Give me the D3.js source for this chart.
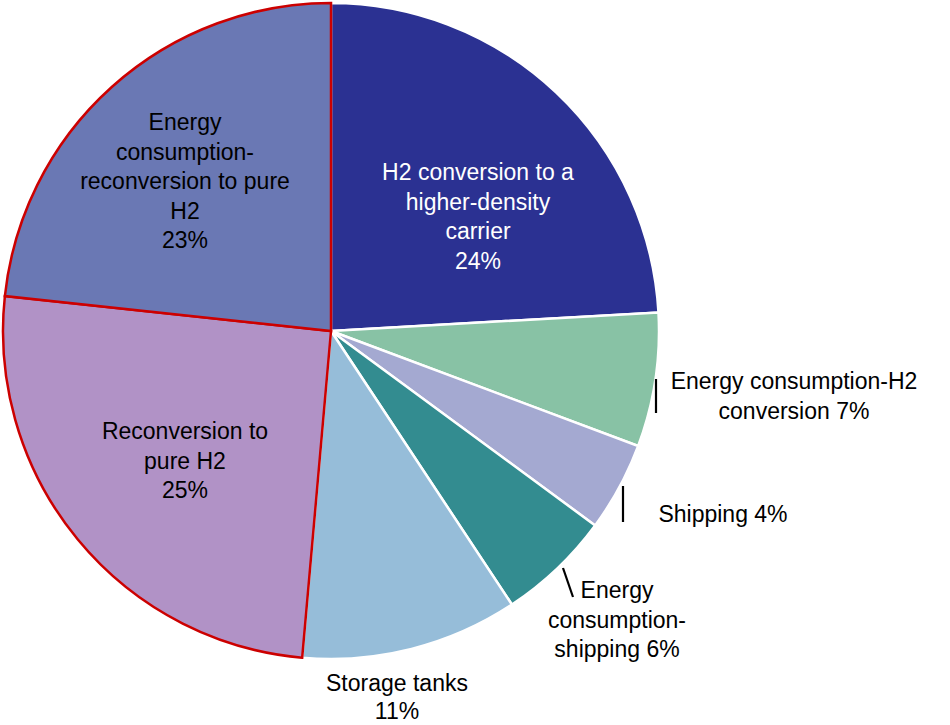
<!DOCTYPE html>
<html><head><meta charset="utf-8">
<script src="https://cdn.jsdelivr.net/npm/d3@7"></script>
<style>body{margin:0;background:#fff}svg{display:block}</style>
</head><body>
<svg id="c" width="950" height="725"></svg>
<script>
const categories = ["H2 conversion to a higher-density carrier","Energy consumption-H2 conversion","Shipping","Energy consumption-shipping","Storage tanks","Reconversion to pure H2","Energy consumption-reconversion to pure H2"];
const values = [24.1, 6.6, 4.4, 5.6, 10.7, 25.3, 23.3];
const pctLabels = ["24%","7%","4%","6%","11%","25%","23%"];
const colors = ["#2b3192","#88c2a5","#a4a9d1","#338c90","#96bdd9","#b192c6","#6a78b4"];
const labelLines = [
  ["H2 conversion to a","higher-density","carrier","24%"],
  ["Energy consumption-H2","conversion 7%"],
  ["Shipping 4%"],
  ["Energy","consumption-","shipping 6%"],
  ["Storage tanks","11%"],
  ["Reconversion to","pure H2","25%"],
  ["Energy","consumption-","reconversion to pure","H2","23%"]
];
const labelPos = [[478,172],[794,381],[723,514],[617,590],[397,683],[185,431],[185,122]];
const textColors = ["#fff","#000","#000","#000","#000","#000","#000"];
const redOutlined = [5,6];

const svg = d3.select("#c");
const cx = 331, cy = 331, R = 328;
const pie = d3.pie().sort(null).value(d=>d).startAngle(0).endAngle(2*Math.PI);
const arcs = pie(values);
const arc = d3.arc().innerRadius(0).outerRadius(R);
const g = svg.append("g").attr("transform",`translate(${cx},${cy})`);
const order = arcs.map((a,i)=>i).sort((a,b)=>(redOutlined.includes(a)?1:0)-(redOutlined.includes(b)?1:0));
g.selectAll("path").data(order).join("path")
  .attr("d", i=>arc(arcs[i]))
  .attr("fill", i=>colors[i])
  .attr("stroke", i=>redOutlined.includes(i)?"#cc0000":"#fff")
  .attr("stroke-width", 2.5)
  .attr("stroke-linejoin","miter");

// leader lines
const leaders = [[656,379,656,413],[623,486,623,522],[563,568,573,597]];
svg.selectAll("line.leader").data(leaders).join("line")
  .attr("x1",d=>d[0]).attr("y1",d=>d[1]).attr("x2",d=>d[2]).attr("y2",d=>d[3])
  .attr("stroke","#000").attr("stroke-width",2.2);

const lh = 29.5;
labelLines.forEach((lines,i)=>{
  const t = svg.append("text")
    .attr("font-family","'Liberation Sans', Arial, sans-serif")
    .attr("font-size",23).attr("fill",textColors[i]).attr("text-anchor","middle");
  lines.forEach((ln,j)=>{
    t.append("tspan").attr("x",labelPos[i][0]).attr("y",labelPos[i][1]+j*(i===4?28:lh))
      .attr("dominant-baseline","central").text(ln);
  });
});
</script>
</body></html>
